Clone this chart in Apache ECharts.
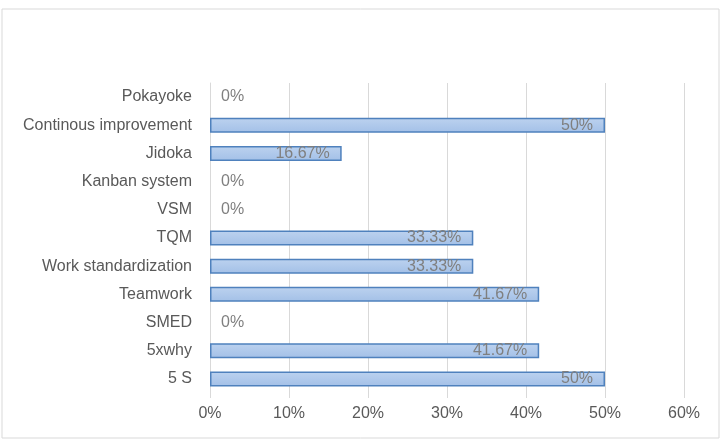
<!DOCTYPE html>
<html>
<head>
<meta charset="utf-8">
<script src="https://cdn.jsdelivr.net/npm/echarts@6/dist/echarts.min.js"></script>
<style>
    html, body { margin: 0; padding: 0; background: #fff; }
    #chart { width: 726px; height: 440px; }
</style>
</head>
<body>
<div id="chart"></div>
<script>
    // categories bottom -> top
    var categories = ['5 S', '5xwhy', 'SMED', 'Teamwork', 'Work standardization', 'TQM',
        'VSM', 'Kanban system', 'Jidoka', 'Continous improvement', 'Pokayoke'];
    var values = [50, 41.67, 0, 41.67, 33.33, 33.33, 0, 0, 16.67, 50, 0];
    var valueLabels = ['50%', '41.67%', '0%', '41.67%', '33.33%', '33.33%', '0%', '0%', '16.67%', '50%', '0%'];

    var seriesData = values.map(function (v, i) {
        var item = { value: v, text: valueLabels[i] };
        if (v === 0) {
            // empty bar: no outline, label sits right of the axis
            item.itemStyle = { borderWidth: 0 };
            item.label = { position: 'right', distance: 11 };
        }
        return item;
    });

    var chart = echarts.init(document.getElementById('chart'));
    var option = {
        animation: false,
        textStyle: { fontFamily: 'Liberation Sans' },
        graphic: [{
            type: 'rect',
            shape: { x: 2, y: 9, width: 717, height: 429 },
            style: { fill: 'none', stroke: '#d9d9d9', lineWidth: 1 }
        }],
        grid: { left: 210, right: 42, top: 83, bottom: 47 },
        xAxis: {
            type: 'value',
            min: 0, max: 60, interval: 10,
            axisLine: { show: false },
            axisTick: { show: true, length: 5, lineStyle: { color: '#d9d9d9' } },
            splitLine: { lineStyle: { color: '#d9d9d9' } },
            axisLabel: { formatter: '{value}%', color: '#595959', fontSize: 16, margin: 13 }
        },
        yAxis: {
            type: 'category',
            data: categories,
            axisLine: { lineStyle: { color: '#d9d9d9' } },
            axisTick: { show: false },
            axisLabel: { color: '#595959', fontSize: 16, margin: 18 }
        },
        series: [{
            type: 'bar',
            data: seriesData,
            barWidth: 15,
            itemStyle: {
                color: new echarts.graphic.LinearGradient(0, 0, 0, 1, [
                    { offset: 0, color: '#bcd2ef' },
                    { offset: 1, color: '#a3c0e7' }
                ]),
                borderColor: '#4f81bd',
                borderWidth: 1.5
            },
            label: {
                show: true,
                position: 'insideRight',
                distance: 12,
                color: '#7f7f7f',
                fontSize: 16,
                formatter: function (p) { return p.data.text; }
            }
        }]
    };
    chart.setOption(option);
</script>
</body>
</html>
